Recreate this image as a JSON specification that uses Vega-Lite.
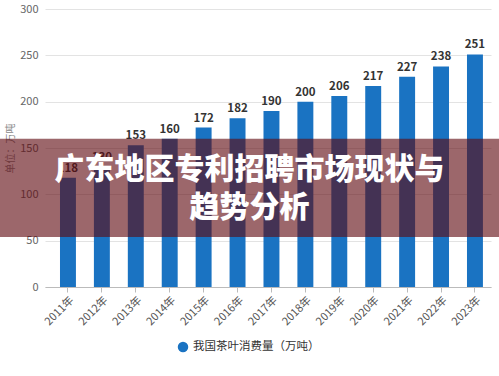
{
  "$schema": "https://vega.github.io/schema/vega-lite/v6.json",
  "width": 499,
  "height": 278,
  "autosize": {"type": "none"},
  "padding": {"left": 0, "top": 9, "right": 0, "bottom": 89},
  "background": "white",
  "config": {"font": "Noto Sans CJK SC", "view": {"stroke": null}},
  "data": {"values": [
    {"year": "2011年", "value": 118},
    {"year": "2012年", "value": 130},
    {"year": "2013年", "value": 153},
    {"year": "2014年", "value": 160},
    {"year": "2015年", "value": 172},
    {"year": "2016年", "value": 182},
    {"year": "2017年", "value": 190},
    {"year": "2018年", "value": 200},
    {"year": "2019年", "value": 206},
    {"year": "2020年", "value": 217},
    {"year": "2021年", "value": 227},
    {"year": "2022年", "value": 238},
    {"year": "2023年", "value": 251}
  ]},
  "layer": [
    {
      "mark": {"type": "bar"},
      "encoding": {
        "x": {
          "field": "year", "type": "nominal", "sort": null,
          "scale": {"range": [45, 491], "paddingInner": 0.53, "paddingOuter": 0.34, "align": 0.65},
          "axis": {"title": null, "labelAngle": -45, "labelFontSize": 11, "labelColor": "#555", "domainColor": "#bbb", "tickColor": "#bbb", "tickSize": 5, "grid": false}
        },
        "y": {
          "field": "value", "type": "quantitative",
          "scale": {"domain": [0, 300], "nice": false},
          "axis": {"title": "单位：万吨", "titleFontSize": 10, "titleFontWeight": "normal", "titleColor": "#888", "titlePadding": 4, "offset": -42, "domain": false, "ticks": false, "labelPadding": 4, "labelFontSize": 11, "labelColor": "#666", "gridColor": "#e3e3e3", "values": [0, 50, 100, 150, 200, 250, 300]}
        },
        "fill": {
          "datum": "我国茶叶消费量（万吨）",
          "scale": {"range": ["#1a73c2"]},
          "legend": {"title": null, "orient": "none", "legendX": 177, "legendY": 332, "symbolType": "circle", "symbolSize": 110, "labelFontSize": 11.5, "labelColor": "#333"}
        }
      }
    },
    {
      "mark": {"type": "text", "dy": -9, "fontWeight": "bold", "fontSize": 11.5, "color": "#333"},
      "encoding": {
        "x": {"field": "year", "type": "nominal", "sort": null},
        "y": {"field": "value", "type": "quantitative"},
        "text": {"field": "value"}
      }
    },
    {
      "data": {"values": [{}]},
      "mark": {"type": "rect", "color": "#600a10", "opacity": 0.62},
      "encoding": {
        "y": {"datum": 54, "type": "quantitative"},
        "y2": {"datum": 160}
      }
    },
    {
      "data": {"values": [{}]},
      "mark": {"type": "text", "color": "white", "fontSize": 30, "fontWeight": 900, "lineHeight": 38, "baseline": "middle", "align": "center"},
      "encoding": {
        "y": {"datum": 126, "type": "quantitative"},
        "text": {"value": ["广东地区专利招聘市场现状与", "趋势分析"]}
      }
    }
  ]
}
